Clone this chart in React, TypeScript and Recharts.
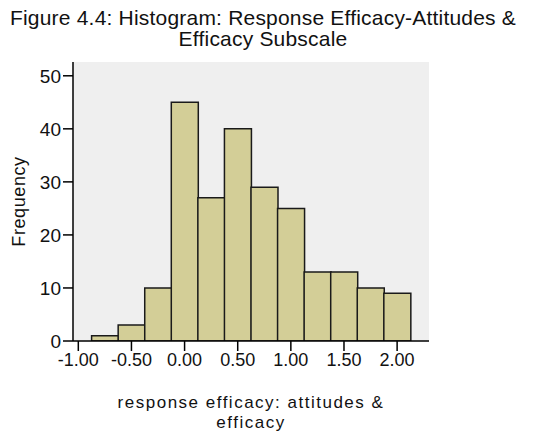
import {
  ComposedChart,
  Bar,
  XAxis,
  YAxis,
  CartesianGrid,
} from "recharts";

// bin midpoints (bins are 0.25 wide)
const binCenters = [
  -0.75, -0.5, -0.25, 0, 0.25, 0.5, 0.75, 1.0, 1.25, 1.5, 1.75, 2.0,
];

const frequencies = [1, 3, 10, 45, 27, 40, 29, 25, 13, 13, 10, 9];

const xTicks = [-1, -0.5, 0, 0.5, 1, 1.5, 2];
const yTicks = [0, 10, 20, 30, 40, 50];

const title = [
  "Figure 4.4: Histogram: Response Efficacy-Attitudes &",
  "Efficacy Subscale",
];
const xLabel = ["response efficacy: attitudes &", "efficacy"];
const yLabel = "Frequency";

const FONT = "'Liberation Sans', Arial, sans-serif";

const data = binCenters.map((x, i) => ({
  x,
  count: frequencies[i],
}));

const App = () => {
  return (
    <div
      style={{
        position: "absolute",
        left: 0,
        top: 0,
        width: 550,
        height: 432,
        background: "#fff",
        fontFamily: FONT,
      }}
    >
      <div
        style={{
          position: "absolute",
          left: 263,
          top: 7,
          transform: "translateX(-50%)",
          whiteSpace: "nowrap",
          textAlign: "center",
          fontSize: 21,
          letterSpacing: 0.2,
          lineHeight: "21px",
          color: "#111",
        }}
      >
        {title[0]}
        <br />
        {title[1]}
      </div>

      <ComposedChart
        width={550}
        height={432}
        data={data}
        margin={{ top: 62, right: 121, bottom: 0, left: 0 }}
        barCategoryGap={0}
        barGap={0}
      >
        <CartesianGrid
          fill="#EFEFEF"
          horizontal={false}
          vertical={false}
        />

        <XAxis
          dataKey="x"
          type="number"
          domain={[-1.05, 2.3]}
          ticks={xTicks}
          allowDataOverflow
          tickFormatter={(v: number) => v.toFixed(2)}
          tickSize={10}
          tickMargin={2}
          height={91}
          stroke="#000"
          strokeWidth={1.5}
          tick={{ fill: "#111", fontSize: 18, fontFamily: FONT }}
          label={(props: any) => {
            const vb = props.viewBox;
            const cx = vb.x + vb.width / 2;
            return (
              <text
                x={cx}
                y={vb.y + 67}
                textAnchor="middle"
                fontSize={17}
                letterSpacing={1.5}
                fontFamily={FONT}
                fill="#111"
              >
                <tspan x={cx}>{xLabel[0]}</tspan>
                <tspan x={cx} dy={19.6}>
                  {xLabel[1]}
                </tspan>
              </text>
            );
          }}
        />

        <XAxis
          xAxisId="top"
          orientation="top"
          dataKey="x"
          type="number"
          domain={[-1.05, 2.3]}
          allowDataOverflow
          tick={false}
          tickLine={false}
          height={0}
          stroke="#222"
          strokeWidth={1.5}
        />

        <YAxis
          type="number"
          domain={[0, 52.6]}
          ticks={yTicks}
          allowDataOverflow
          width={73}
          tickSize={10}
          tickMargin={2}
          stroke="#000"
          strokeWidth={1.5}
          tick={{ fill: "#111", fontSize: 19, fontFamily: FONT }}
          label={(props: any) => {
            const vb = props.viewBox;
            const cy = vb.y + vb.height / 2;
            return (
              <text
                x={25}
                y={cy}
                transform={`rotate(-90, 25, ${cy})`}
                textAnchor="middle"
                fontSize={18}
                letterSpacing={0.6}
                fontFamily={FONT}
                fill="#111"
              >
                {yLabel}
              </text>
            );
          }}
        />

        <YAxis
          yAxisId="right"
          orientation="right"
          type="number"
          domain={[0, 52.6]}
          tick={false}
          tickLine={false}
          width={0}
          stroke="#555"
          strokeWidth={2.5}
        />

        <Bar
          dataKey="count"
          fill="#D3CE97"
          stroke="#1a1a1a"
          strokeWidth={1.5}
          isAnimationActive={false}
        />
      </ComposedChart>
    </div>
  );
};

export default App;
